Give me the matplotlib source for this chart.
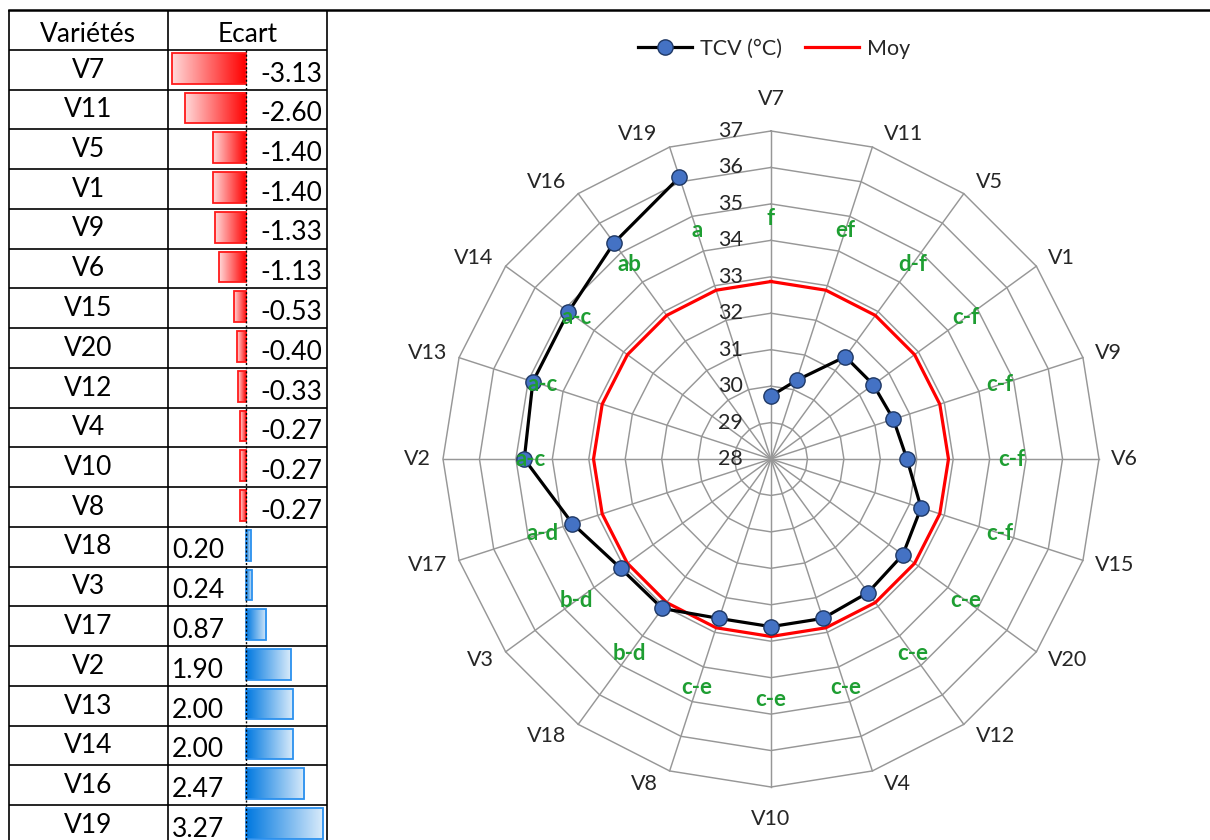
import numpy as np
import matplotlib
matplotlib.use("Agg")
import matplotlib.pyplot as plt
from matplotlib.lines import Line2D
from matplotlib.patches import Rectangle
from matplotlib.colors import to_rgb

# ---- data ---------------------------------------------------------------
varieties = ["V7", "V11", "V5", "V1", "V9", "V6", "V15", "V20", "V12", "V4",
             "V10", "V8", "V18", "V3", "V17", "V2", "V13", "V14", "V16", "V19"]
ecart = [-3.13, -2.60, -1.40, -1.40, -1.33, -1.13, -0.53, -0.40, -0.33, -0.27,
         -0.27, -0.27, 0.20, 0.24, 0.87, 1.90, 2.00, 2.00, 2.47, 3.27]
tcv = [29.73, 30.27, 31.47, 31.47, 31.53, 31.73, 32.33, 32.47, 32.53, 32.60,
       32.60, 32.60, 33.07, 33.10, 33.73, 34.77, 34.87, 34.87, 35.33, 36.13]
moy = 32.87
groups = ["f", "ef", "d-f", "c-f", "c-f", "c-f", "c-f", "c-e", "c-e", "c-e",
          "c-e", "c-e", "b-d", "b-d", "a-d", "a-c", "a-c", "a-c", "ab", "a"]
group_level = 34.6
radial_ticks = [28, 29, 30, 31, 32, 33, 34, 35, 36, 37]
header = ["Variétés", "Ecart"]
series_names = ["TCV (°C)", "Moy"]

plt.rcParams["font.family"] = ["Lato", "DejaVu Sans"]

W, H = 1210, 840
fig = plt.figure(figsize=(W / 100, H / 100), dpi=100)
fig.patch.set_facecolor("white")

# ---- table (pixel coordinates) -----------------------------------------
tab = fig.add_axes([0, 0, 1, 1])
tab.set_xlim(0, W)
tab.set_ylim(H, 0)
tab.axis("off")

TOP, RH = 10, 39.75
XL, XM, XR, X0 = 8.5, 168, 327, 246
SC = 23.5  # pixels per degree in the data-bar column
n = len(varieties)
line_kw = dict(color="black", lw=1.2, solid_capstyle="butt")

tab.plot([XL, W], [TOP, TOP], color="black", lw=1.8)
for i in range(1, n + 2):
    y = TOP + i * RH
    tab.plot([XL, XR], [y, y], **line_kw)
for x in (XL, XM, XR):
    tab.plot([x, x], [TOP, H], **line_kw)

tfs = 19
tab.text((XL + XM) / 2, TOP + RH - 8, header[0], ha="center", va="baseline",
         fontsize=tfs, color="black")
tab.text((XM + XR) / 2, TOP + RH - 8, header[1], ha="center", va="baseline",
         fontsize=tfs, color="black")
for j, (name, v) in enumerate(zip(varieties, ecart), start=1):
    bottom = TOP + (j + 1) * RH
    tab.text((XL + XM) / 2, bottom - 12, name, ha="center", va="baseline",
             fontsize=tfs, color="black")
    if v < 0:
        tab.text(XR - 5, bottom - 8, f"{v:.2f}", ha="right", va="baseline",
                 fontsize=tfs, color="black")
    else:
        tab.text(XM + 4, bottom - 8, f"{v:.2f}", ha="left", va="baseline",
                 fontsize=tfs, color="black")

# ---- data bars (degree units horizontally, row units vertically) --------
bx = fig.add_axes([XM / W, 0, (XR - XM) / W, 1])
bx.axis("off")
neg_c, pos_c = to_rgb("#ff0000"), to_rgb("#0078e0")
neg_e, pos_e = "#ff1a1a", "#2a90ee"
for j, v in enumerate(ecart, start=1):
    top = j + 3 / RH
    bot = j + 1 - 6 / RH
    full = np.array(neg_c if v < 0 else pos_c)
    light = full + (1 - full) * 0.85
    t = np.linspace(0, 1, 128)[:, None]
    if v < 0:
        grad = light + (full - light) * t
        x0, x1 = v, 0
    else:
        grad = full + (light - full) * t
        x0, x1 = 0, v
    bx.imshow(grad[None, :, :], extent=(x0, x1, bot, top), aspect="auto",
              interpolation="bilinear", zorder=1)
    bx.add_patch(Rectangle((x0, top), x1 - x0, bot - top, fill=False,
                           edgecolor=neg_e if v < 0 else pos_e, lw=1.3, zorder=2))
ymax = (H - TOP) / RH
bx.plot([0, 0], [1, ymax], color="black", lw=1.0, ls=(0, (1.5, 1.5)), zorder=3)
bx.set_xlim((XM - X0) / SC, (XR - X0) / SC)
bx.set_ylim(ymax, -TOP / RH)

# ---- radar chart ---------------------------------------------------------
cx, cy, R = 771, 459, 328
pax = fig.add_axes([(cx - R) / W, (H - cy - R) / H, 2 * R / W, 2 * R / H],
                   projection="polar")
pax.set_theta_zero_location("N")
pax.set_theta_direction(-1)
pax.set_ylim(radial_ticks[0], radial_ticks[-1])
pax.grid(False)
pax.set_xticks([])
pax.set_yticks([])
pax.spines["polar"].set_visible(False)
pax.patch.set_visible(False)

theta = np.arange(n) * 2 * np.pi / n
theta_c = np.append(theta, theta[0])
grid_c = "#979797"
for lvl in radial_ticks[1:]:
    pax.plot(theta_c, [lvl] * (n + 1), color=grid_c, lw=1.05, zorder=1, clip_on=False)
for t in theta:
    pax.plot([t, t], [radial_ticks[0], radial_ticks[-1]], color=grid_c, lw=1.05,
             zorder=1, clip_on=False)

pax.plot(theta_c, [moy] * (n + 1), color="#ff0000", lw=2.3, zorder=3, clip_on=False)
pax.plot(theta, tcv, color="black", lw=2.3, marker="o", ms=11,
         mfc="#4472C4", mec="#1F3864", mew=1.0, zorder=4, clip_on=False)

for t, g in zip(theta, groups):
    pax.text(t, group_level, g, ha="center", va="center", fontsize=16,
             fontweight="bold", color="#1e9e32", zorder=5)

for v in radial_ticks:
    pax.annotate(str(v), xy=(0, v), xytext=(-28, 0), textcoords="offset pixels",
                 ha="right", va="center", fontsize=15.5, color="#262626",
                 annotation_clip=False)

for t, name in zip(theta, varieties):
    s, c = np.sin(t), np.cos(t)
    if abs(s) < 0.05:
        ha, dx, dy = "center", 0, 32 * np.sign(c)
    else:
        ha = "left" if s > 0 else "right"
        dx, dy = 12 * np.sign(s), 14 * c
    pax.annotate(name, xy=(t, radial_ticks[-1]), xytext=(dx, dy),
                 textcoords="offset pixels", ha=ha, va="center", fontsize=15.5,
                 color="#262626", annotation_clip=False)

handles = [Line2D([], [], color="black", lw=2.3, marker="o", ms=11,
                  mfc="#4472C4", mec="#1F3864", mew=1.0),
           Line2D([], [], color="#ff0000", lw=2.3)]
fig.legend(handles, series_names, loc="center", bbox_to_anchor=(774 / W, 1 - 49 / H),
           ncol=2, frameon=False, fontsize=15.5, handlelength=2.5,
           handletextpad=0.35, columnspacing=1.1, labelcolor="#262626")

fig.savefig("out.png", dpi=100, facecolor="white")
